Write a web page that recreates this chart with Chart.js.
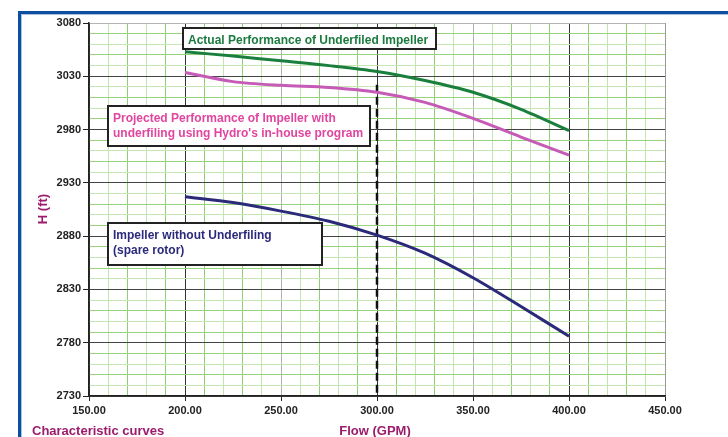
<!DOCTYPE html>
<html>
<head>
<meta charset="utf-8">
<script src="https://cdn.jsdelivr.net/npm/chart.js@4.4.1/dist/chart.umd.min.js"></script>
<style>
    html, body { margin: 0; padding: 0; background: #fff; }
    #wrap { width: 728px; height: 437px; position: relative; }
</style>
</head>
<body>
<div id="wrap"><canvas id="curvas"></canvas></div>
<script>
// valores (vazão em GPM, altura em ft)
var flowGpm = [200, 225, 250, 275, 300, 325, 350, 375, 400];
var actualUnderfiled = [3053, 3049, 3044.5, 3040, 3034.5, 3026, 3015, 2999, 2979];
var projectedUnderfiled = [3033.5, 3025, 3021.5, 3019.5, 3015, 3005.5, 2990.5, 2973, 2956];
var withoutUnderfiling = [2917, 2911.5, 2903.5, 2894, 2881, 2864, 2841, 2814, 2786];
var dashedFlow = [300, 300];
var dashedHead = [3022, 2730];

var xTicks = [150, 200, 250, 300, 350, 400, 450];
var yTicks = [2730, 2780, 2830, 2880, 2930, 2980, 3030, 3080];

var fonte = '"Liberation Sans", Arial, sans-serif';

function pontos(xs, ys) {
    return xs.map(function(x, i) { return { x: x, y: ys[i] }; });
}

// caixas de texto, posição em unidades dos eixos
var notas = [
    { x: 199, y: 3075, w: 253, h: 21, color: '#1b7b3f', lines: ['Actual Performance of Underfiled Impeller'] },
    { x: 160, y: 3002.5, w: 262, h: 40, color: '#e0459f', lines: ['Projected Performance of Impeller with', 'underfiling using Hydro\'s in-house program'] },
    { x: 160, y: 2892, w: 214, h: 42, color: '#2b2a7c', lines: ['Impeller without Underfiling', '(spare rotor)'] }
];

var extras = {
    id: 'extras',
    beforeDraw: function(chart) {
        var c = chart.ctx;
        c.save();
        c.fillStyle = '#0d4f9e';
        c.fillRect(18, 11, 728 - 18, 3);
        c.fillRect(18, 11, 3, 437 - 11);
        c.fillStyle = '#a9c2e2';
        c.fillRect(21, 14, 728 - 21, 1);
        c.fillRect(21, 14, 1, 437 - 14);
        c.restore();
    },
    afterDatasetsDraw: function(chart) {
        var c = chart.ctx;
        var sx = chart.scales.x, sy = chart.scales.y;
        c.save();
        notas.forEach(function(n) {
            var px = Math.round(sx.getPixelForValue(n.x));
            var py = Math.round(sy.getPixelForValue(n.y));
            c.fillStyle = '#fff';
            c.fillRect(px, py, n.w, n.h);
            c.lineWidth = 2;
            c.strokeStyle = '#222';
            c.strokeRect(px, py, n.w, n.h);
            c.fillStyle = n.color;
            c.font = 'bold 12px ' + fonte;
            c.textBaseline = 'alphabetic';
            n.lines.forEach(function(t, i) {
                c.fillText(t, px + 5, py + 15.5 + i * 15);
            });
        });
        c.restore();
    },
    afterDraw: function(chart) {
        var c = chart.ctx;
        var a = chart.chartArea;
        c.save();
        c.fillStyle = '#9b1c6c';
        c.font = 'bold 13px ' + fonte;
        c.textBaseline = 'middle';
        c.textAlign = 'left';
        c.fillText('Characteristic curves', 32, 431);
        c.textAlign = 'center';
        c.fillText('Flow (GPM)', (a.left + a.right) / 2 - 2, 431);
        c.translate(43, 209);
        c.rotate(-Math.PI / 2);
        c.fillText('H (ft)', 0, 0);
        c.restore();
    }
};

document.addEventListener("DOMContentLoaded", function() {
    var ctx_curvas = document.getElementById('curvas').getContext('2d');
    var myChart_curvas = new Chart(ctx_curvas, {
        type: 'line',
        data: {
            datasets: [{
                label: 'Actual Performance of Underfiled Impeller',
                data: pontos(flowGpm, actualUnderfiled),
                borderColor: '#1a7f3c',
                borderWidth: 3,
                tension: 0.3,
                pointRadius: 0
            }, {
                label: 'Projected Performance of Impeller',
                data: pontos(flowGpm, projectedUnderfiled),
                borderColor: '#c65ab7',
                borderWidth: 3,
                tension: 0.3,
                pointRadius: 0
            }, {
                label: 'Impeller without Underfiling',
                data: pontos(flowGpm, withoutUnderfiling),
                borderColor: '#2b2a7a',
                borderWidth: 3,
                tension: 0.3,
                pointRadius: 0
            }, {
                label: 'Design point',
                data: pontos(dashedFlow, dashedHead),
                borderColor: '#111',
                borderWidth: 2.5,
                borderDash: [8, 4],
                pointRadius: 0
            }]
        },
        plugins: [extras],
        options: {
            responsive: true,
            maintainAspectRatio: false,
            animation: false,
            layout: {
                padding: { left: 0, top: 23, right: 63, bottom: 0 }
            },
            plugins: {
                legend: { display: false },
                title: { display: false },
                tooltip: { enabled: false }
            },
            scales: {
                x: {
                    type: 'linear',
                    min: xTicks[0],
                    max: xTicks[xTicks.length - 1],
                    afterFit: function(scale) { scale.height = 41; },
                    border: { color: '#222', width: 1.5 },
                    grid: {
                        tickLength: 5,
                        color: function(context) {
                            var v = context.tick.value;
                            if (v === 450) return '#999';
                            if (v === 250 || v === 350) return '#b0b0b0';
                            if (xTicks.indexOf(v) >= 0) return '#333';
                            return (v / 10) % 2 ? '#8fcf72' : '#c2e5b0';
                        },
                        tickColor: function(context) {
                            return xTicks.indexOf(context.tick.value) >= 0 ? '#222' : 'rgba(0,0,0,0)';
                        }
                    },
                    ticks: {
                        stepSize: 10,
                        autoSkip: false,
                        maxRotation: 0,
                        minRotation: 0,
                        padding: 3,
                        color: '#222',
                        font: { family: fonte, size: 11, weight: 'bold' },
                        callback: function(value) {
                            return xTicks.indexOf(value) >= 0 ? value.toFixed(2) : '';
                        }
                    }
                },
                y: {
                    min: yTicks[0],
                    max: yTicks[yTicks.length - 1],
                    afterFit: function(scale) { scale.width = 89; },
                    border: { color: '#222', width: 1.5 },
                    grid: {
                        tickLength: 6,
                        color: function(context) {
                            var v = context.tick.value;
                            if (v === 3080) return '#b5b5b5';
                            if (yTicks.indexOf(v) >= 0) return '#444';
                            return (v / 10) % 2 ? '#98d37c' : '#c5e6b5';
                        },
                        tickColor: function(context) {
                            return yTicks.indexOf(context.tick.value) >= 0 ? '#222' : 'rgba(0,0,0,0)';
                        }
                    },
                    ticks: {
                        stepSize: 10,
                        autoSkip: false,
                        padding: 2,
                        color: '#222',
                        font: { family: fonte, size: 11, weight: 'bold' },
                        callback: function(value) {
                            return yTicks.indexOf(value) >= 0 ? String(value) : '';
                        }
                    }
                }
            }
        }
    });
});
</script>
</body>
</html>
